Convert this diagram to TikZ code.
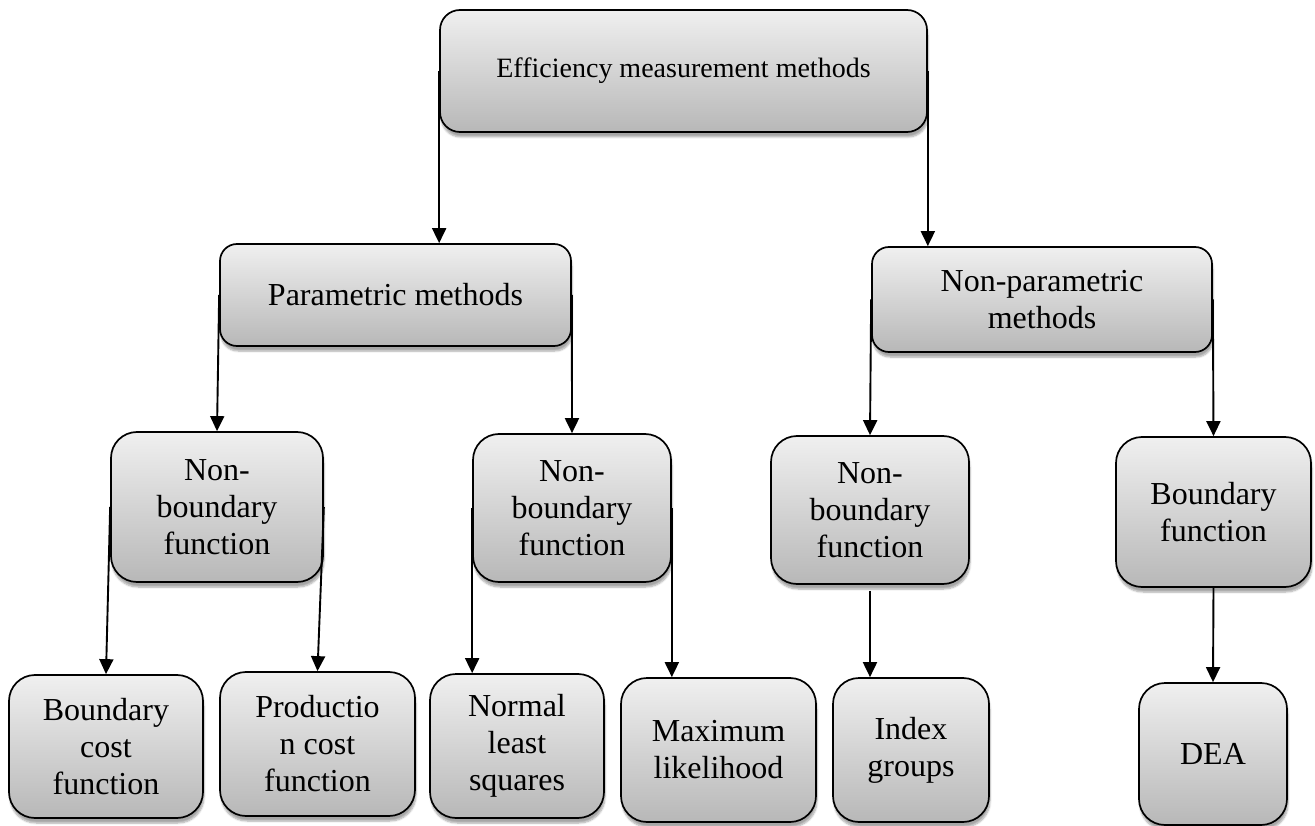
\documentclass[tikz,border=0pt]{standalone}
\usepackage{fontspec}
\setmainfont{Liberation Serif}
\usetikzlibrary{arrows.meta,shadows.blur}
\begin{document}
\begin{tikzpicture}[x=1pt,y=-1pt,
  box/.style={draw=black, line width=1.7pt, rounded corners=#1,
    top color=black!6, bottom color=black!28, align=center, inner sep=0pt,
    font=\fontsize{32}{37}\selectfont,
    blur shadow={shadow xshift=1pt, shadow yshift=-5pt, shadow blur steps=6, shadow opacity=35}},
  box/.default=26pt,
  arr/.style={line width=1.9pt, -{Triangle[length=15pt,width=14pt]}}]
\useasboundingbox (0,0) rectangle (1315,826);

\node[box=20pt, minimum width=487pt, minimum height=122pt, font=\fontsize{28}{32}\selectfont] (top) at (683.5,71) {Efficiency measurement methods};
\node[box=17pt, minimum width=351pt, minimum height=102pt] (par) at (395.5,295) {Parametric methods};
\node[box=17pt, minimum width=340pt, minimum height=105pt] (nonpar) at (1042,299.5) {Non-parametric\\methods};

\node[box, minimum width=212pt, minimum height=150pt] (nb1) at (217,507) {Non-\\boundary\\function};
\node[box, minimum width=198pt, minimum height=148pt] (nb2) at (572,508) {Non-\\boundary\\function};
\node[box, minimum width=198pt, minimum height=148pt] (nb3) at (870,510) {Non-\\boundary\\function};
\node[box, minimum width=195pt, minimum height=150pt] (bf) at (1213.5,512) {Boundary\\function};

\node[box, minimum width=194pt, minimum height=143pt] (bcf) at (106,746.5) {Boundary\\cost\\function};
\node[box, minimum width=195pt, minimum height=144pt] (pcf) at (317.5,744) {Productio\\n cost\\function};
\node[box, minimum width=174pt, minimum height=144pt] (nls) at (517,746) {Normal\\least\\squares};
\node[box, minimum width=195pt, minimum height=144pt] (ml) at (718.5,750) {Maximum\\likelihood};
\node[box, minimum width=156pt, minimum height=144pt] (ig) at (911,750) {Index\\groups};
\node[box, minimum width=148pt, minimum height=142pt] (dea) at (1213,754) {DEA};

\draw[arr] (top.west) -- (top.west |- par.north);
\draw[arr] (top.east) -- (top.east |- nonpar.north);
\draw[arr] (par.west) -- (nb1.north);
\draw[arr] (par.east) -- (nb2.north);
\draw[arr] (nonpar.west) -- (nb3.north);
\draw[arr] (nonpar.east) -- (bf.north);
\draw[arr] (nb1.west) -- (bcf.north);
\draw[arr] (nb1.east) -- (pcf.north);
\draw[arr] (nb2.west) -- (nb2.west |- nls.north);
\draw[arr] (nb2.east) -- (nb2.east |- ml.north);
\draw[arr] ([yshift=-6pt]nb3.south) -- (nb3.south |- ig.north);
\draw[arr] (bf.south) -- (dea.north);
\end{tikzpicture}
\end{document}
